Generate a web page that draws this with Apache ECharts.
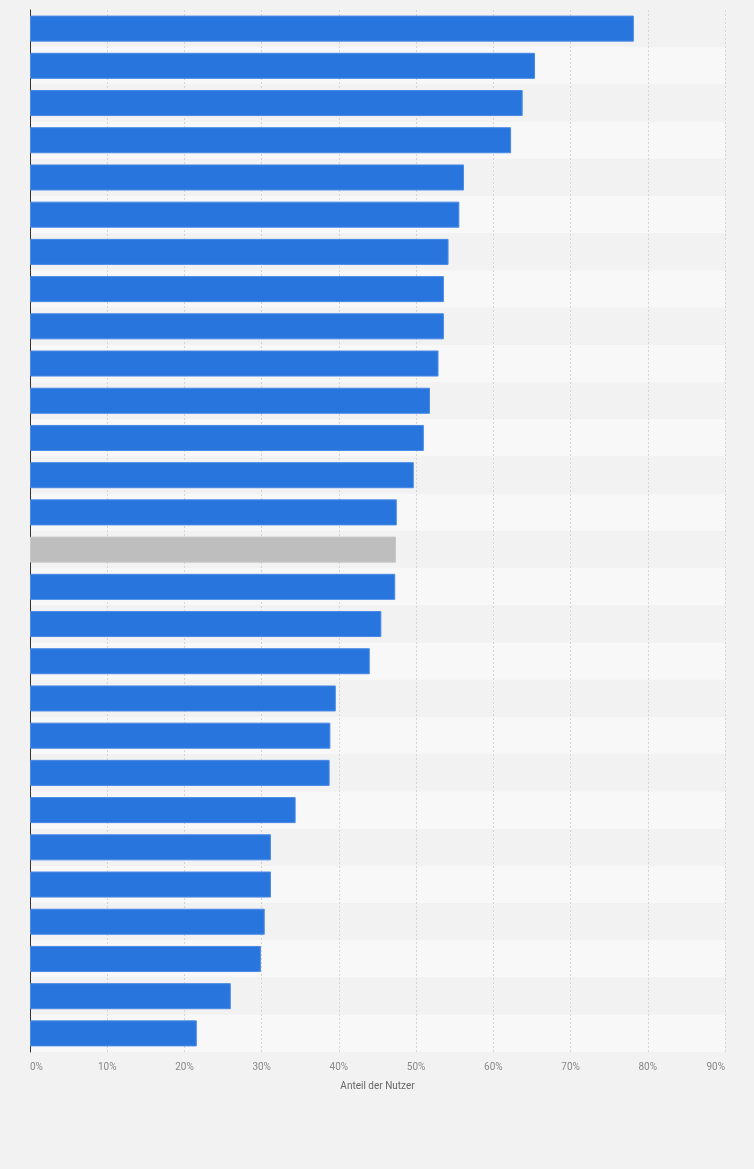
<!DOCTYPE html>
<html>
<head>
<meta charset="utf-8">
<script src="https://cdn.jsdelivr.net/npm/echarts@6/dist/echarts.min.js"></script>
<style>
html,body{margin:0;padding:0;background:#f2f2f2;}
#c{width:754px;height:1169px;}
</style>
</head>
<body>
<div id="c"></div>
<script>
const categories = ["K1","K2","K3","K4","K5","K6","K7","K8","K9","K10","K11","K12","K13","K14","K15","K16","K17","K18","K19","K20","K21","K22","K23","K24","K25","K26","K27","K28"];
const values = [78.2,65.4,63.8,62.3,56.2,55.6,54.2,53.6,53.6,52.9,51.8,51.0,49.7,47.5,47.4,47.3,45.5,44.0,39.6,38.9,38.8,34.4,31.2,31.2,30.4,29.9,26.0,21.6];
const highlightIndex = 14;
const xTicks = [0,10,20,30,40,50,60,70,80,90];
const axisTitle = "Anteil der Nutzer";

const chart = echarts.init(document.getElementById('c'));
chart.setOption({
  backgroundColor: '#f2f2f2',
  animation: false,
  grid: {left: 30, right: 29, top: 10, bottom: 117, containLabel: false},
  xAxis: {
    type: 'value',
    min: xTicks[0],
    max: xTicks[xTicks.length - 1],
    interval: 10,
    name: axisTitle,
    nameLocation: 'middle',
    nameGap: 29,
    nameTextStyle: {color: '#666', fontSize: 10, fontFamily: 'Roboto, Arial, sans-serif'},
    axisLine: {show: false},
    axisTick: {show: false},
    axisLabel: {
      color: '#888', fontSize: 10, margin: 10,
      fontFamily: 'Roboto, Arial, sans-serif',
      alignMinLabel: 'left', alignMaxLabel: 'right',
      formatter: v => v + '%'
    },
    splitLine: {show: true, lineStyle: {color: '#d4d4d4', type: [2, 2], width: 1}}
  },
  yAxis: {
    type: 'category',
    data: categories,
    inverse: true,
    axisLabel: {show: false},
    axisTick: {show: false},
    axisLine: {show: true, lineStyle: {color: '#333', width: 1}},
    splitArea: {show: true, areaStyle: {color: ['#f2f2f2', '#f8f8f8']}}
  },
  series: [{
    type: 'bar',
    data: values.map((v, i) => i === highlightIndex
      ? {value: v, itemStyle: {color: '#bebebe', borderColor: '#c8c8c8'}}
      : v),
    barCategoryGap: '30%',
    itemStyle: {color: '#2876dd', borderColor: '#4a8ae6', borderWidth: 1},
    z: 3
  }]
});
</script>
</body>
</html>
